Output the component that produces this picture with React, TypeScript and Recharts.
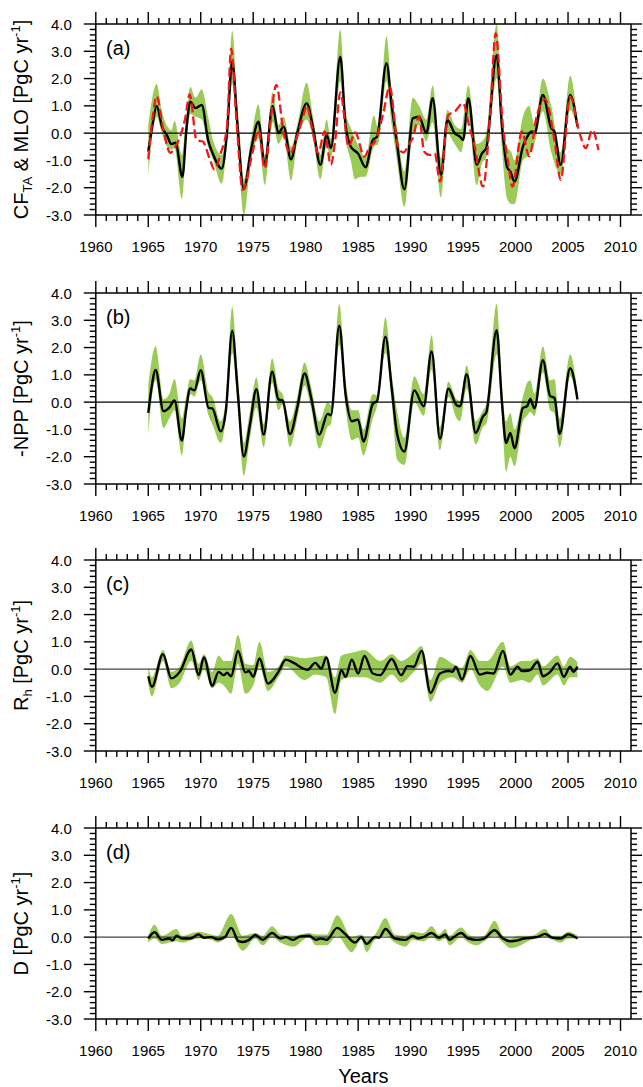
import { ComposedChart, Area, Line, XAxis, YAxis, ReferenceLine } from "recharts";

type P = [number, number];
type B = [number, number, number];

const FONT = '"Liberation Sans", Arial, Helvetica, sans-serif';
const GREEN = "#9BCB57";

// labelled ticks
const yearLabels = [1960, 1965, 1970, 1975, 1980, 1985, 1990, 1995, 2000, 2005, 2010];
const valueLabels = [-3, -2, -1, 0, 1, 2, 3, 4];

// (a) CF_TA mean, spread and MLO
const cfMean: P[] = [
  [1965.0, -0.68], [1965.4, 0.3], [1965.8, 1.0], [1966.3, 0.25], [1966.8, -0.1], [1967.2, -0.4],
  [1967.6, -0.35], [1968.25, -1.6], [1968.65, 0.2], [1969.0, 1.15], [1969.5, 0.92], [1970.1, 1.03],
  [1970.7, -0.25], [1971.2, -0.8], [1972.0, -1.3], [1972.5, 0.0], [1973.0, 2.62], [1973.5, 0.3],
  [1974.1, -2.05], [1974.8, -0.6], [1975.5, 0.42], [1976.1, -1.16], [1976.85, 1.0], [1977.4, 0.0],
  [1977.9, 0.24], [1978.6, -0.96], [1979.2, 0.0], [1980.1, 1.09], [1980.7, 0.2], [1981.4, -1.16],
  [1982.0, -0.07], [1982.4, -0.55], [1983.3, 2.8], [1983.8, 0.3], [1984.3, -0.5], [1985.0, -0.75],
  [1985.7, -1.25], [1986.4, -0.25], [1986.8, -0.13], [1987.7, 2.56], [1988.2, 1.0], [1988.7, -0.37],
  [1989.4, -2.06], [1990.2, 0.54], [1990.8, 0.6], [1991.5, 0.0], [1992.1, 1.28], [1992.9, -1.53],
  [1993.5, 0.48], [1994.2, 0.0], [1994.7, -0.13], [1995.0, -0.25], [1995.5, 1.28], [1996.3, -1.16],
  [1996.8, -0.74], [1997.2, -0.55], [1998.2, 2.86], [1998.7, 0.3], [1999.2, -1.25], [1999.5, -1.4],
  [1999.9, -1.78], [2000.7, -0.49], [2001.2, -0.07], [2001.5, 0.06], [2001.8, 0.0], [2002.6, 1.4],
  [2003.4, 0.18], [2003.7, 0.06], [2004.3, -1.16], [2005.2, 1.4], [2005.9, 0.24],
];
const cfBand: B[] = [
  [1965.0, -1.55, 0.3], [1965.8, 0.6, 1.8], [1966.3, 0.0, 0.8], [1966.8, -0.5, 0.25], [1967.2, -0.6, 0.1],
  [1967.5, -0.55, 0.45], [1968.2, -2.4, -0.8], [1968.6, -0.5, 0.5], [1969.0, 0.7, 1.7], [1969.5, 0.6, 1.3],
  [1970.1, 0.5, 1.6], [1970.7, -0.5, 0.6], [1971.2, -1.0, -0.3], [1972.0, -1.85, -0.8], [1972.5, -0.4, 0.4],
  [1973.0, 1.8, 3.75], [1973.5, -0.3, 1.0], [1974.1, -3.0, -1.7], [1974.8, -1.0, -0.2], [1975.5, -0.2, 1.05],
  [1976.1, -1.9, -0.8], [1976.85, 0.4, 1.5], [1977.4, -0.4, 0.3], [1977.9, -0.1, 0.6], [1978.6, -1.75, -0.5],
  [1979.2, -0.3, 0.3], [1980.1, 0.5, 1.85], [1980.7, -0.2, 0.6], [1981.4, -1.7, -0.8], [1982.0, -0.5, 0.5],
  [1982.4, -0.9, -0.2], [1983.3, 1.9, 3.8], [1983.8, -0.2, 0.8], [1984.3, -1.0, 0.2], [1984.7, -1.7, -0.2],
  [1985.2, -1.6, -0.6], [1985.7, -1.6, -0.9], [1986.5, -0.5, 0.65], [1986.9, -0.4, 0.2], [1987.7, 1.9, 3.55],
  [1988.2, 0.3, 1.5], [1988.7, -1.0, 0.2], [1989.4, -2.7, -1.4], [1990.2, 0.0, 1.3], [1990.8, 0.3, 1.0],
  [1991.5, -0.3, 0.5], [1992.1, 0.4, 1.75], [1992.9, -2.35, -0.9], [1993.5, 0.0, 0.85], [1994.2, -0.4, 0.3],
  [1994.8, -0.7, 0.15], [1995.5, 0.6, 1.75], [1996.3, -1.9, -0.4], [1996.8, -1.1, -0.3], [1997.2, -0.9, 0.0],
  [1998.2, 2.0, 4.0], [1998.7, -0.6, 0.8], [1999.2, -2.4, -0.5], [1999.6, -2.6, -0.7], [1999.9, -2.6, -1.0],
  [2000.7, -1.0, 0.6], [2001.3, -0.8, 1.0], [2001.8, -0.4, 0.3], [2002.6, 0.8, 2.0], [2003.4, -0.7, 1.0],
  [2004.3, -1.5, -0.7], [2005.2, 0.85, 2.1], [2005.9, 0.1, 0.35],
];
const mlo: P[] = [
  [1965.0, -0.96], [1965.4, 0.5], [1965.8, 1.36], [1966.4, 0.2], [1967.1, -0.72], [1967.5, -0.55],
  [1968.1, -0.05], [1968.5, 0.5], [1968.95, 1.42], [1969.6, -0.25], [1970.2, -0.31], [1970.9, -1.0],
  [1971.3, -1.33], [1971.9, -0.74], [1972.5, 0.24], [1972.9, 3.1], [1973.4, 0.5], [1974.0, -2.08],
  [1975.0, -0.6], [1975.5, 0.12], [1976.1, -1.29], [1976.7, 0.6], [1977.2, 1.77], [1977.9, 0.0],
  [1978.5, -0.75], [1979.2, -0.1], [1979.8, 0.67], [1980.1, 1.0], [1980.6, 0.2], [1981.2, -0.74],
  [1981.8, 0.06], [1982.4, -1.16], [1982.8, -0.3], [1983.3, 1.49], [1984.1, -0.49], [1984.7, 0.03],
  [1985.6, -0.86], [1986.1, -0.49], [1986.6, -0.31], [1987.4, 0.73], [1988.0, 1.71], [1988.8, -0.49],
  [1989.3, -0.71], [1989.9, -0.37], [1990.2, -0.18], [1990.8, 0.6], [1991.3, -0.68], [1991.8, -0.8],
  [1992.3, -0.74], [1992.8, -1.78], [1993.6, 0.67], [1994.2, 0.79], [1995.0, 1.1], [1995.6, 0.24],
  [1996.1, -0.49], [1996.9, -1.96], [1997.6, 0.8], [1998.1, 3.66], [1998.8, 0.24], [1999.3, -1.1],
  [1999.7, -1.96], [2000.6, 0.06], [2001.3, -0.85], [2002.0, 0.6], [2002.8, 1.25], [2003.7, -0.25],
  [2004.3, -1.71], [2005.2, 1.34], [2006.1, 0.0], [2006.7, -0.55], [2007.3, 0.12], [2007.9, -0.62],
];

// (b) -NPP
const nppMean: P[] = [
  [1965.0, -0.39], [1965.3, 0.5], [1965.7, 1.18], [1966.45, -0.33], [1967.0, -0.2], [1967.5, 0.06],
  [1968.2, -1.41], [1968.6, -0.3], [1969.0, 0.5], [1969.4, 0.43], [1970.0, 1.17], [1970.75, -0.21],
  [1971.1, -0.23], [1971.9, -1.07], [1972.4, -0.3], [1973.0, 2.62], [1973.5, 0.5], [1974.1, -1.99],
  [1974.7, -0.8], [1975.3, 0.47], [1976.0, -1.19], [1976.8, 1.12], [1977.4, 0.1], [1977.8, 0.06],
  [1978.5, -1.17], [1979.2, -0.2], [1979.9, 1.05], [1980.5, 0.2], [1981.3, -1.19], [1982.1, -0.43],
  [1982.4, -0.48], [1983.2, 2.8], [1983.8, 0.3], [1984.4, -0.7], [1985.0, -0.64], [1985.5, -1.44],
  [1986.4, -0.06], [1986.8, 0.04], [1987.6, 2.4], [1988.2, 0.5], [1988.7, -1.13], [1989.4, -1.81],
  [1990.35, 0.43], [1991.25, -0.15], [1992.0, 1.86], [1992.8, -1.34], [1993.6, 0.49], [1994.4, -0.12],
  [1994.7, -0.15], [1995.35, 1.02], [1996.2, -1.13], [1996.9, -0.52], [1997.2, -0.39], [1998.2, 2.64],
  [1998.7, 0.0], [1999.1, -1.5], [1999.5, -1.13], [1999.9, -1.69], [2000.7, -0.21], [2001.1, -0.15],
  [2001.4, 0.12], [2001.8, -0.23], [2002.6, 1.54], [2003.3, 0.22], [2003.7, 0.16], [2004.2, -1.16],
  [2005.2, 1.24], [2005.9, 0.1],
];
const nppBand: B[] = [
  [1965.0, -1.2, 0.6], [1965.7, 0.8, 2.05], [1966.45, -0.95, 0.1], [1967.0, -0.6, 0.3], [1967.5, -0.3, 0.85],
  [1968.2, -1.95, -0.6], [1968.6, -0.6, 0.2], [1969.0, 0.3, 0.85], [1969.4, 0.2, 0.8], [1970.0, 0.8, 1.75],
  [1970.75, -0.5, 0.35], [1971.1, -0.8, 0.2], [1971.9, -1.5, -0.7], [1972.4, -0.6, 0.1], [1973.0, 1.8, 3.5],
  [1973.5, 0.0, 1.2], [1974.1, -2.7, -1.5], [1974.7, -1.3, -0.3], [1975.3, -0.2, 0.9], [1976.0, -1.65, -0.8],
  [1976.8, 0.7, 1.6], [1977.4, -0.3, 0.5], [1977.8, -0.1, 0.3], [1978.5, -1.65, -0.7], [1979.2, -0.6, 0.2],
  [1979.9, 0.6, 1.45], [1980.5, -0.2, 0.6], [1981.3, -1.7, -0.7], [1982.1, -0.9, 0.0], [1982.4, -0.8, -0.1],
  [1983.2, 2.1, 3.6], [1983.8, -0.2, 0.8], [1984.4, -1.4, -0.3], [1985.0, -1.3, -0.3], [1985.5, -1.95, -1.0],
  [1986.4, -0.6, 0.3], [1986.8, -0.15, 0.25], [1987.6, 1.8, 3.1], [1988.2, 0.0, 1.0], [1988.7, -2.1, -0.3],
  [1989.4, -2.3, -1.3], [1990.35, 0.0, 0.95], [1991.25, -0.5, 0.3], [1992.0, 1.2, 2.45], [1992.8, -1.75, -0.9],
  [1993.6, 0.2, 0.75], [1994.4, -0.6, 0.1], [1994.7, -0.7, 0.05], [1995.35, 0.5, 1.35], [1996.2, -1.55, -0.7],
  [1996.9, -0.9, -0.3], [1997.2, -0.8, -0.1], [1998.2, 1.75, 3.6], [1998.7, -0.5, 0.6], [1999.1, -2.55, -0.7],
  [1999.5, -2.0, -0.4], [1999.9, -2.35, -1.0], [2000.7, -0.7, 0.2], [2001.1, -0.5, 0.7], [2001.4, -0.35, 0.8],
  [2001.8, -0.5, 0.3], [2002.6, 1.1, 2.05], [2003.3, -0.3, 0.8], [2003.7, -0.4, 0.85], [2004.2, -1.65, -0.6],
  [2005.2, 0.95, 1.75], [2005.9, -0.1, 0.35],
];

// (c) Rh
const rhMean: P[] = [
  [1965.0, -0.26], [1965.35, -0.65], [1966.4, 0.55], [1967.2, -0.34], [1968.0, -0.1], [1969.1, 0.72],
  [1969.8, -0.22], [1970.3, 0.43], [1971.1, -0.61], [1971.7, -0.1], [1972.2, -0.22], [1972.5, -0.13],
  [1972.9, -0.26], [1973.55, 0.67], [1974.25, -0.12], [1974.6, -0.07], [1975.0, -0.28], [1975.6, 0.39],
  [1976.4, -0.53], [1977.4, -0.1], [1978.1, 0.35], [1978.95, 0.21], [1979.9, 0.0], [1980.2, -0.02],
  [1980.9, 0.23], [1981.5, 0.02], [1981.95, 0.43], [1982.8, -0.87], [1983.4, -0.04], [1983.8, -0.28],
  [1984.4, 0.35], [1985.0, -0.16], [1985.6, 0.48], [1986.4, -0.16], [1987.1, -0.22], [1988.2, 0.37],
  [1989.1, -0.22], [1989.7, 0.11], [1990.3, 0.09], [1991.05, 0.67], [1991.9, -0.87], [1992.8, -0.16],
  [1993.6, -0.07], [1994.0, -0.1], [1994.3, 0.09], [1994.9, -0.38], [1995.7, 0.48], [1996.6, -0.2],
  [1997.3, -0.13], [1997.9, -0.16], [1998.8, 0.67], [1999.5, -0.2], [2000.2, 0.09], [2000.6, -0.07],
  [2001.35, -0.04], [2002.1, 0.27], [2002.6, -0.26], [2003.3, -0.1], [2004.0, 0.21], [2004.6, -0.28],
  [2005.2, 0.09], [2005.5, -0.1], [2005.9, 0.09],
];
const rhBand: B[] = [
  [1965.0, -0.55, 0.1], [1965.35, -1.0, -0.3], [1966.4, 0.3, 0.7], [1967.2, -0.7, -0.1], [1968.0, -0.5, 0.1],
  [1969.1, 0.3, 1.05], [1969.8, -0.4, 0.2], [1970.3, 0.0, 0.55], [1971.1, -0.7, -0.1], [1971.7, -0.5, 0.5],
  [1972.2, -0.6, 0.3], [1972.9, -0.9, 0.3], [1973.55, 0.2, 1.25], [1974.25, -0.9, 0.2], [1975.0, -0.6, 0.15],
  [1975.6, 0.1, 1.0], [1976.4, -0.8, -0.1], [1977.4, -0.3, 0.1], [1978.1, 0.1, 0.5], [1979.9, -0.4, 0.4],
  [1980.9, -0.2, 0.45], [1981.95, -0.3, 0.5], [1982.8, -1.65, -0.3], [1983.4, -0.4, 0.5], [1984.4, -0.3, 0.6],
  [1985.6, -0.3, 0.7], [1987.1, -0.5, 0.3], [1988.2, -0.2, 0.55], [1989.1, -0.5, 0.3], [1990.3, -0.1, 0.6],
  [1991.05, 0.2, 0.85], [1991.9, -1.2, -0.4], [1992.8, -0.5, 0.45], [1994.0, -0.3, 0.2], [1994.9, -0.5, 0.05],
  [1995.7, 0.0, 0.7], [1996.6, -0.6, 0.3], [1997.3, -0.8, 0.3], [1998.8, 0.1, 1.0], [1999.5, -0.5, 0.1],
  [2000.6, -0.4, 0.3], [2001.35, -0.5, 0.3], [2002.1, -0.2, 0.4], [2002.6, -0.6, 0.1], [2004.0, -0.2, 0.5],
  [2004.6, -0.6, 0.1], [2005.2, -0.3, 0.45], [2005.9, -0.3, 0.25],
];

// (d) D
const dMean: P[] = [
  [1965.0, -0.05], [1965.6, 0.18], [1966.3, -0.1], [1967.0, -0.05], [1967.3, -0.12], [1967.7, 0.05],
  [1968.2, -0.05], [1969.0, -0.05], [1969.8, 0.1], [1970.3, -0.02], [1971.0, 0.0], [1971.6, -0.08],
  [1972.3, 0.0], [1972.9, 0.34], [1973.6, -0.15], [1974.0, -0.18], [1974.6, -0.1], [1975.2, 0.08],
  [1975.9, -0.1], [1976.8, 0.15], [1977.6, -0.05], [1978.1, 0.0], [1978.8, -0.1], [1979.5, 0.03],
  [1980.3, 0.05], [1981.0, -0.1], [1981.4, -0.05], [1982.0, -0.1], [1983.0, 0.34], [1983.8, 0.1],
  [1984.7, -0.2], [1985.3, 0.0], [1985.8, -0.25], [1986.6, 0.0], [1987.0, -0.02], [1987.6, 0.3],
  [1988.5, -0.05], [1989.5, -0.1], [1990.2, 0.05], [1990.7, -0.05], [1991.2, 0.0], [1992.0, 0.15],
  [1992.7, -0.02], [1993.3, 0.1], [1993.7, -0.1], [1994.1, 0.0], [1994.8, 0.15], [1995.5, -0.05],
  [1996.3, -0.1], [1997.0, -0.05], [1998.0, 0.25], [1998.8, -0.05], [1999.5, -0.15], [2000.2, -0.12],
  [2000.8, -0.05], [2001.5, -0.02], [2002.2, 0.02], [2002.8, 0.12], [2003.5, -0.02], [2004.3, -0.05],
  [2005.0, 0.1], [2005.9, -0.05],
];
const dBand: B[] = [
  [1965.0, -0.2, 0.05], [1965.6, -0.05, 0.45], [1966.3, -0.25, 0.05], [1967.7, -0.15, 0.3], [1968.2, -0.2, 0.05],
  [1969.8, -0.05, 0.2], [1971.0, -0.1, 0.1], [1971.6, -0.2, 0.05], [1972.9, 0.05, 0.85], [1974.0, -0.5, 0.05],
  [1975.2, -0.05, 0.15], [1975.9, -0.3, 0.05], [1976.8, 0.0, 0.4], [1977.6, -0.2, 0.1], [1978.8, -0.35, 0.05],
  [1980.3, 0.0, 0.15], [1981.0, -0.3, 0.1], [1982.0, -0.3, 0.1], [1983.0, 0.05, 0.8], [1984.4, -0.55, 0.0],
  [1985.3, -0.1, 0.1], [1985.8, -0.55, -0.05], [1986.6, -0.1, 0.1], [1987.6, 0.05, 0.7], [1988.5, -0.2, 0.1],
  [1989.5, -0.35, 0.05], [1990.2, -0.1, 0.2], [1991.2, -0.15, 0.15], [1992.0, 0.0, 0.4], [1992.7, -0.15, 0.1],
  [1993.3, -0.05, 0.3], [1993.7, -0.3, 0.05], [1994.8, 0.0, 0.35], [1995.5, -0.2, 0.1], [1996.3, -0.3, 0.0],
  [1997.0, -0.15, 0.05], [1998.0, 0.05, 0.6], [1998.8, -0.2, 0.05], [1999.5, -0.4, -0.05], [2000.2, -0.35, 0.05],
  [2001.5, -0.1, 0.05], [2002.8, 0.0, 0.3], [2003.5, -0.1, 0.05], [2004.3, -0.2, 0.05], [2005.0, -0.05, 0.2],
  [2005.9, -0.05, 0.05],
];

const yearTicks = Array.from({ length: 51 }, (_, i) => 1960 + i);
const valueTicks = Array.from({ length: 36 }, (_, i) => Math.round((-3 + i * 0.2) * 10) / 10);

const toLine = (pts: P[]) => pts.map(([t, v]) => ({ t, v }));
const toBand = (pts: B[]) => pts.map(([t, lo, hi]) => ({ t, r: [lo, hi] }));

const isMajorYear = (y: number) => yearLabels.includes(y);
const isMajorValue = (v: number) => valueLabels.some((m) => Math.abs(m - v) < 1e-6);

const BottomTick = (p: any) => {
  const yr = p.payload.value;
  const major = isMajorYear(yr);
  return (
    <g>
      <line x1={p.x} x2={p.x} y1={p.y} y2={p.y + (major ? 12 : 6)} stroke="#000" strokeWidth={1.4} />
      {major ? (
        <text x={p.x} y={p.y + 37} textAnchor="middle" fontSize={15} fontFamily={FONT} fill="#000">
          {yr}
        </text>
      ) : null}
    </g>
  );
};

const TopTick = (p: any) => {
  const major = isMajorYear(p.payload.value);
  return <line x1={p.x} x2={p.x} y1={p.y} y2={p.y - (major ? 12 : 6)} stroke="#000" strokeWidth={1.4} />;
};

const LeftTick = (p: any) => {
  const v = p.payload.value;
  const major = isMajorValue(v);
  return (
    <g>
      <line x1={p.x} x2={p.x - (major ? 12 : 6)} y1={p.y} y2={p.y} stroke="#000" strokeWidth={1.4} />
      {major ? (
        <text x={p.x - 24} y={p.y + 5.5} textAnchor="end" fontSize={15} fontFamily={FONT} fill="#000">
          {v.toFixed(1)}
        </text>
      ) : null}
    </g>
  );
};

const RightTick = (p: any) => {
  const major = isMajorValue(p.payload.value);
  return <line x1={p.x} x2={p.x + (major ? 11 : 6)} y1={p.y} y2={p.y} stroke="#000" strokeWidth={1.4} />;
};

const PLOT_H = 191;
const TOP_H = 16;
const BOTTOM_H = 45;
const CHART_H = 280;

interface PanelProps {
  top: number;
  tag: string;
  title: React.ReactNode;
  band: B[];
  mean: P[];
  dashed?: P[];
  zeroColor: string;
  footer?: boolean;
}

function Panel({ top, tag, title, band, mean, dashed, zeroColor, footer }: PanelProps) {
  const cy = TOP_H + PLOT_H / 2;
  return (
    <div style={{ position: "absolute", left: 0, top: top - TOP_H, width: 643, height: CHART_H }}>
      <ComposedChart
        width={643}
        height={CHART_H}
        margin={{ top: 0, right: 0, bottom: CHART_H - TOP_H - PLOT_H - BOTTOM_H, left: 0 }}
      >
        <XAxis
          xAxisId="b"
          type="number"
          dataKey="t"
          domain={[1960, 2011]}
          allowDataOverflow
          ticks={yearTicks}
          interval={0}
          tickSize={0}
          tickMargin={0}
          tick={BottomTick}
          height={BOTTOM_H}
          axisLine={{ stroke: "#000", strokeWidth: 1.5 }}
        />
        <XAxis
          xAxisId="top"
          orientation="top"
          type="number"
          dataKey="t"
          domain={[1960, 2011]}
          allowDataOverflow
          ticks={yearTicks}
          interval={0}
          tickSize={0}
          tickMargin={0}
          tick={TopTick}
          height={TOP_H}
          axisLine={{ stroke: "#000", strokeWidth: 1.5 }}
        />
        <YAxis
          yAxisId="l"
          type="number"
          domain={[-3, 4]}
          allowDataOverflow
          ticks={valueTicks}
          interval={0}
          tickSize={0}
          tickMargin={0}
          tick={LeftTick}
          width={95.8}
          axisLine={{ stroke: "#000", strokeWidth: 1.5 }}
        />
        <YAxis
          yAxisId="r"
          orientation="right"
          type="number"
          domain={[-3, 4]}
          allowDataOverflow
          ticks={valueTicks}
          interval={0}
          tickSize={0}
          tickMargin={0}
          tick={RightTick}
          width={12}
          axisLine={{ stroke: "#000", strokeWidth: 1.5 }}
        />
        <Area
          xAxisId="b"
          yAxisId="l"
          data={toBand(band)}
          dataKey="r"
          type="monotone"
          fill={GREEN}
          fillOpacity={1}
          stroke="none"
          isAnimationActive={false}
        />
        <ReferenceLine xAxisId="b" yAxisId="l" y={0} stroke={zeroColor} strokeWidth={1.3} />
        <Line
          xAxisId="b"
          yAxisId="l"
          data={toLine(mean)}
          dataKey="v"
          type="monotone"
          stroke="#000"
          strokeWidth={2.4}
          dot={false}
          isAnimationActive={false}
        />
        {dashed ? (
          <Line
            xAxisId="b"
            yAxisId="l"
            data={toLine(dashed)}
            dataKey="v"
            type="monotone"
            stroke="#F01818"
            strokeWidth={2.3}
            strokeDasharray="9 4"
            dot={false}
            isAnimationActive={false}
          />
        ) : null}
        <text x={106} y={TOP_H + 31} fontSize={20} fontFamily={FONT} fill="#000">
          {tag}
        </text>
        <text
          x={28}
          y={cy}
          transform={`rotate(-90 28 ${cy})`}
          textAnchor="middle"
          fontSize={20}
          fontFamily={FONT}
          fill="#000"
        >
          {title}
        </text>
        {footer ? (
          <text x={363.4} y={271} textAnchor="middle" fontSize={20} fontFamily={FONT} fill="#000">
            Years
          </text>
        ) : null}
      </ComposedChart>
    </div>
  );
}

const unit = (
  <>
    <tspan>{" [PgC yr"}</tspan>
    <tspan fontSize={13} dy={-8}>-1</tspan>
    <tspan dy={8}>]</tspan>
  </>
);

export default function App() {
  return (
    <div style={{ position: "absolute", left: 0, top: 0, width: 643, height: 1087, background: "#fff" }}>
      <Panel
        top={24}
        tag="(a)"
        band={cfBand}
        mean={cfMean}
        dashed={mlo}
        zeroColor="#000"
        title={
          <>
            <tspan>CF</tspan>
            <tspan fontSize={13} dy={4}>TA</tspan>
            <tspan dy={-4}>{" & MLO"}</tspan>
            {unit}
          </>
        }
      />
      <Panel
        top={292.5}
        tag="(b)"
        band={nppBand}
        mean={nppMean}
        zeroColor="#000"
        title={
          <>
            <tspan>-NPP</tspan>
            {unit}
          </>
        }
      />
      <Panel
        top={560}
        tag="(c)"
        band={rhBand}
        mean={rhMean}
        zeroColor="#444"
        title={
          <>
            <tspan>R</tspan>
            <tspan fontSize={13} dy={4}>h</tspan>
            <tspan dy={-4}>{" [PgC yr"}</tspan>
            <tspan fontSize={13} dy={-8}>-1</tspan>
            <tspan dy={8}>]</tspan>
          </>
        }
      />
      <Panel
        top={827.5}
        tag="(d)"
        band={dBand}
        mean={dMean}
        zeroColor="#444"
        footer
        title={
          <>
            <tspan>D</tspan>
            {unit}
          </>
        }
      />
    </div>
  );
}
